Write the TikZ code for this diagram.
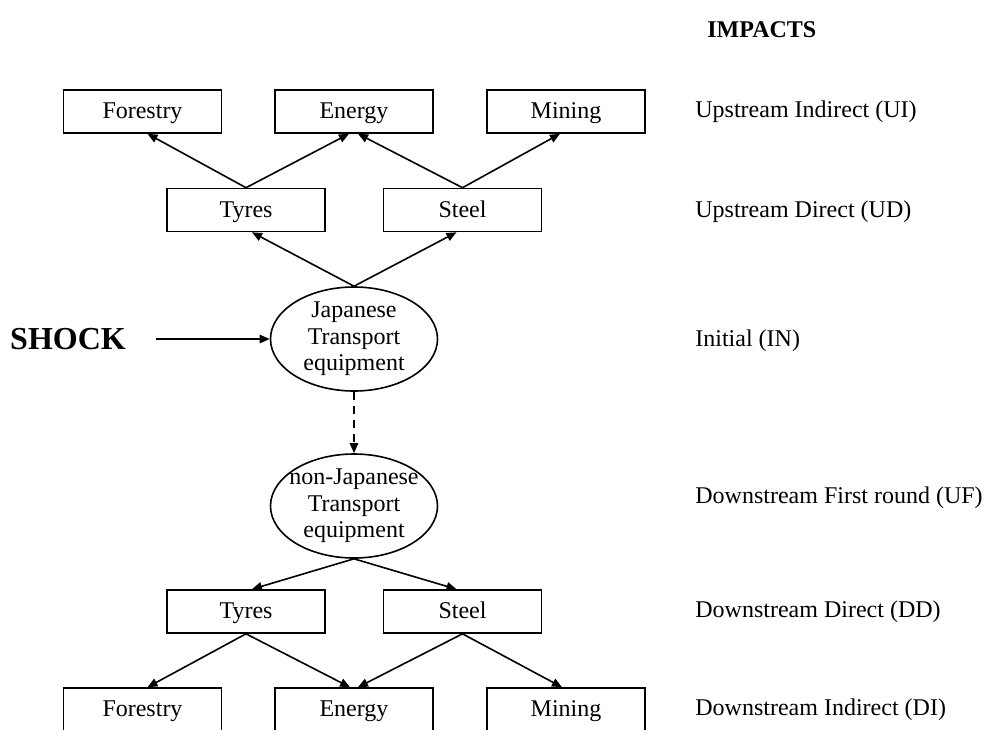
\documentclass[tikz,border=0pt]{standalone}
\usepackage{fontspec}
\setmainfont{Liberation Serif}
\usetikzlibrary{shapes,arrows.meta}

\begin{document}
\begin{tikzpicture}[x=0.5pt,y=-0.5pt,
  sector/.style={draw,line width=0.8pt,minimum width=79pt,minimum height=21.5pt,inner sep=0pt,text height=9pt,text depth=1.8pt,font=\fontsize{12}{14}\selectfont},
  industry/.style={draw,ellipse,line width=0.8pt,minimum width=83.5pt,minimum height=52pt,inner sep=-10pt,align=center,font=\fontsize{12}{13.3}\selectfont},
  impact/.style={anchor=west,inner sep=0pt,font=\fontsize{12}{14}\selectfont},
  link/.style={line width=0.8pt,-{Triangle[length=5pt,width=4.2pt]}}]
\useasboundingbox (0,0) rectangle (990,729);

% upstream side
\node[sector] (ufor) at (142.5,111.5) {Forestry};
\node[sector] (uen) at (354,111.5) {Energy};
\node[sector] (umin) at (566,111.5) {Mining};
\node[sector] (uty) at (246,210) {Tyres};
\node[sector] (ust) at (462.5,210) {Steel};

% shocked sectors
\node[industry] (jap) at (354,339) {Japanese\\Transport\\equipment};
\node[industry] (njap) at (354,506) {non-Japanese\\Transport\\equipment};
\node[inner sep=0pt,font=\fontsize{16}{18}\selectfont\bfseries] (shock) at (68,339) {SHOCK};

% downstream side
\node[sector] (dty) at (246,611.5) {Tyres};
\node[sector] (dst) at (462.5,611.5) {Steel};
\node[sector] (dfor) at (142.5,709.5) {Forestry};
\node[sector] (den) at (354,709.5) {Energy};
\node[sector] (dmin) at (566,709.5) {Mining};

% impact levels
\node[impact,font=\fontsize{12}{14}\selectfont\bfseries] (imp) at (707,30) {IMPACTS};
\node[impact] (ui) at (695,112) {Upstream Indirect (UI)};
\node[impact] (ud) at (695,212) {Upstream Direct (UD)};
\node[impact] (in) at (695,341) {Initial (IN)};
\node[impact] (uf) at (695,498) {Downstream First round (UF)};
\node[impact] (dd) at (695,612) {Downstream Direct (DD)};
\node[impact] (di) at (695,710) {Downstream Indirect (DI)};

\draw[link,shorten <=15pt] (shock.east) -- (jap.west);
\draw[link] (jap.north) -- ([xshift=3pt]uty.south);
\draw[link] (jap.north) -- ([xshift=-3pt]ust.south);
\draw[link] (uty.north) -- ([xshift=2.5pt]ufor.south);
\draw[link] (uty.north) -- ([xshift=-2.5pt]uen.south);
\draw[link] (ust.north) -- ([xshift=2pt]uen.south);
\draw[link] (ust.north) -- ([xshift=-3pt]umin.south);
\draw[link,dash pattern=on 4pt off 3pt] (jap.south) -- (njap.north);
\draw[link] (njap.south) -- ([xshift=3pt]dty.north);
\draw[link] (njap.south) -- ([xshift=-3pt]dst.north);
\draw[link] (dty.south) -- ([xshift=2.5pt]dfor.north);
\draw[link] (dty.south) -- ([xshift=-2pt]den.north);
\draw[link] (dst.south) -- ([xshift=2pt]den.north);
\draw[link] (dst.south) -- ([xshift=-2pt]dmin.north);
\end{tikzpicture}
\end{document}
